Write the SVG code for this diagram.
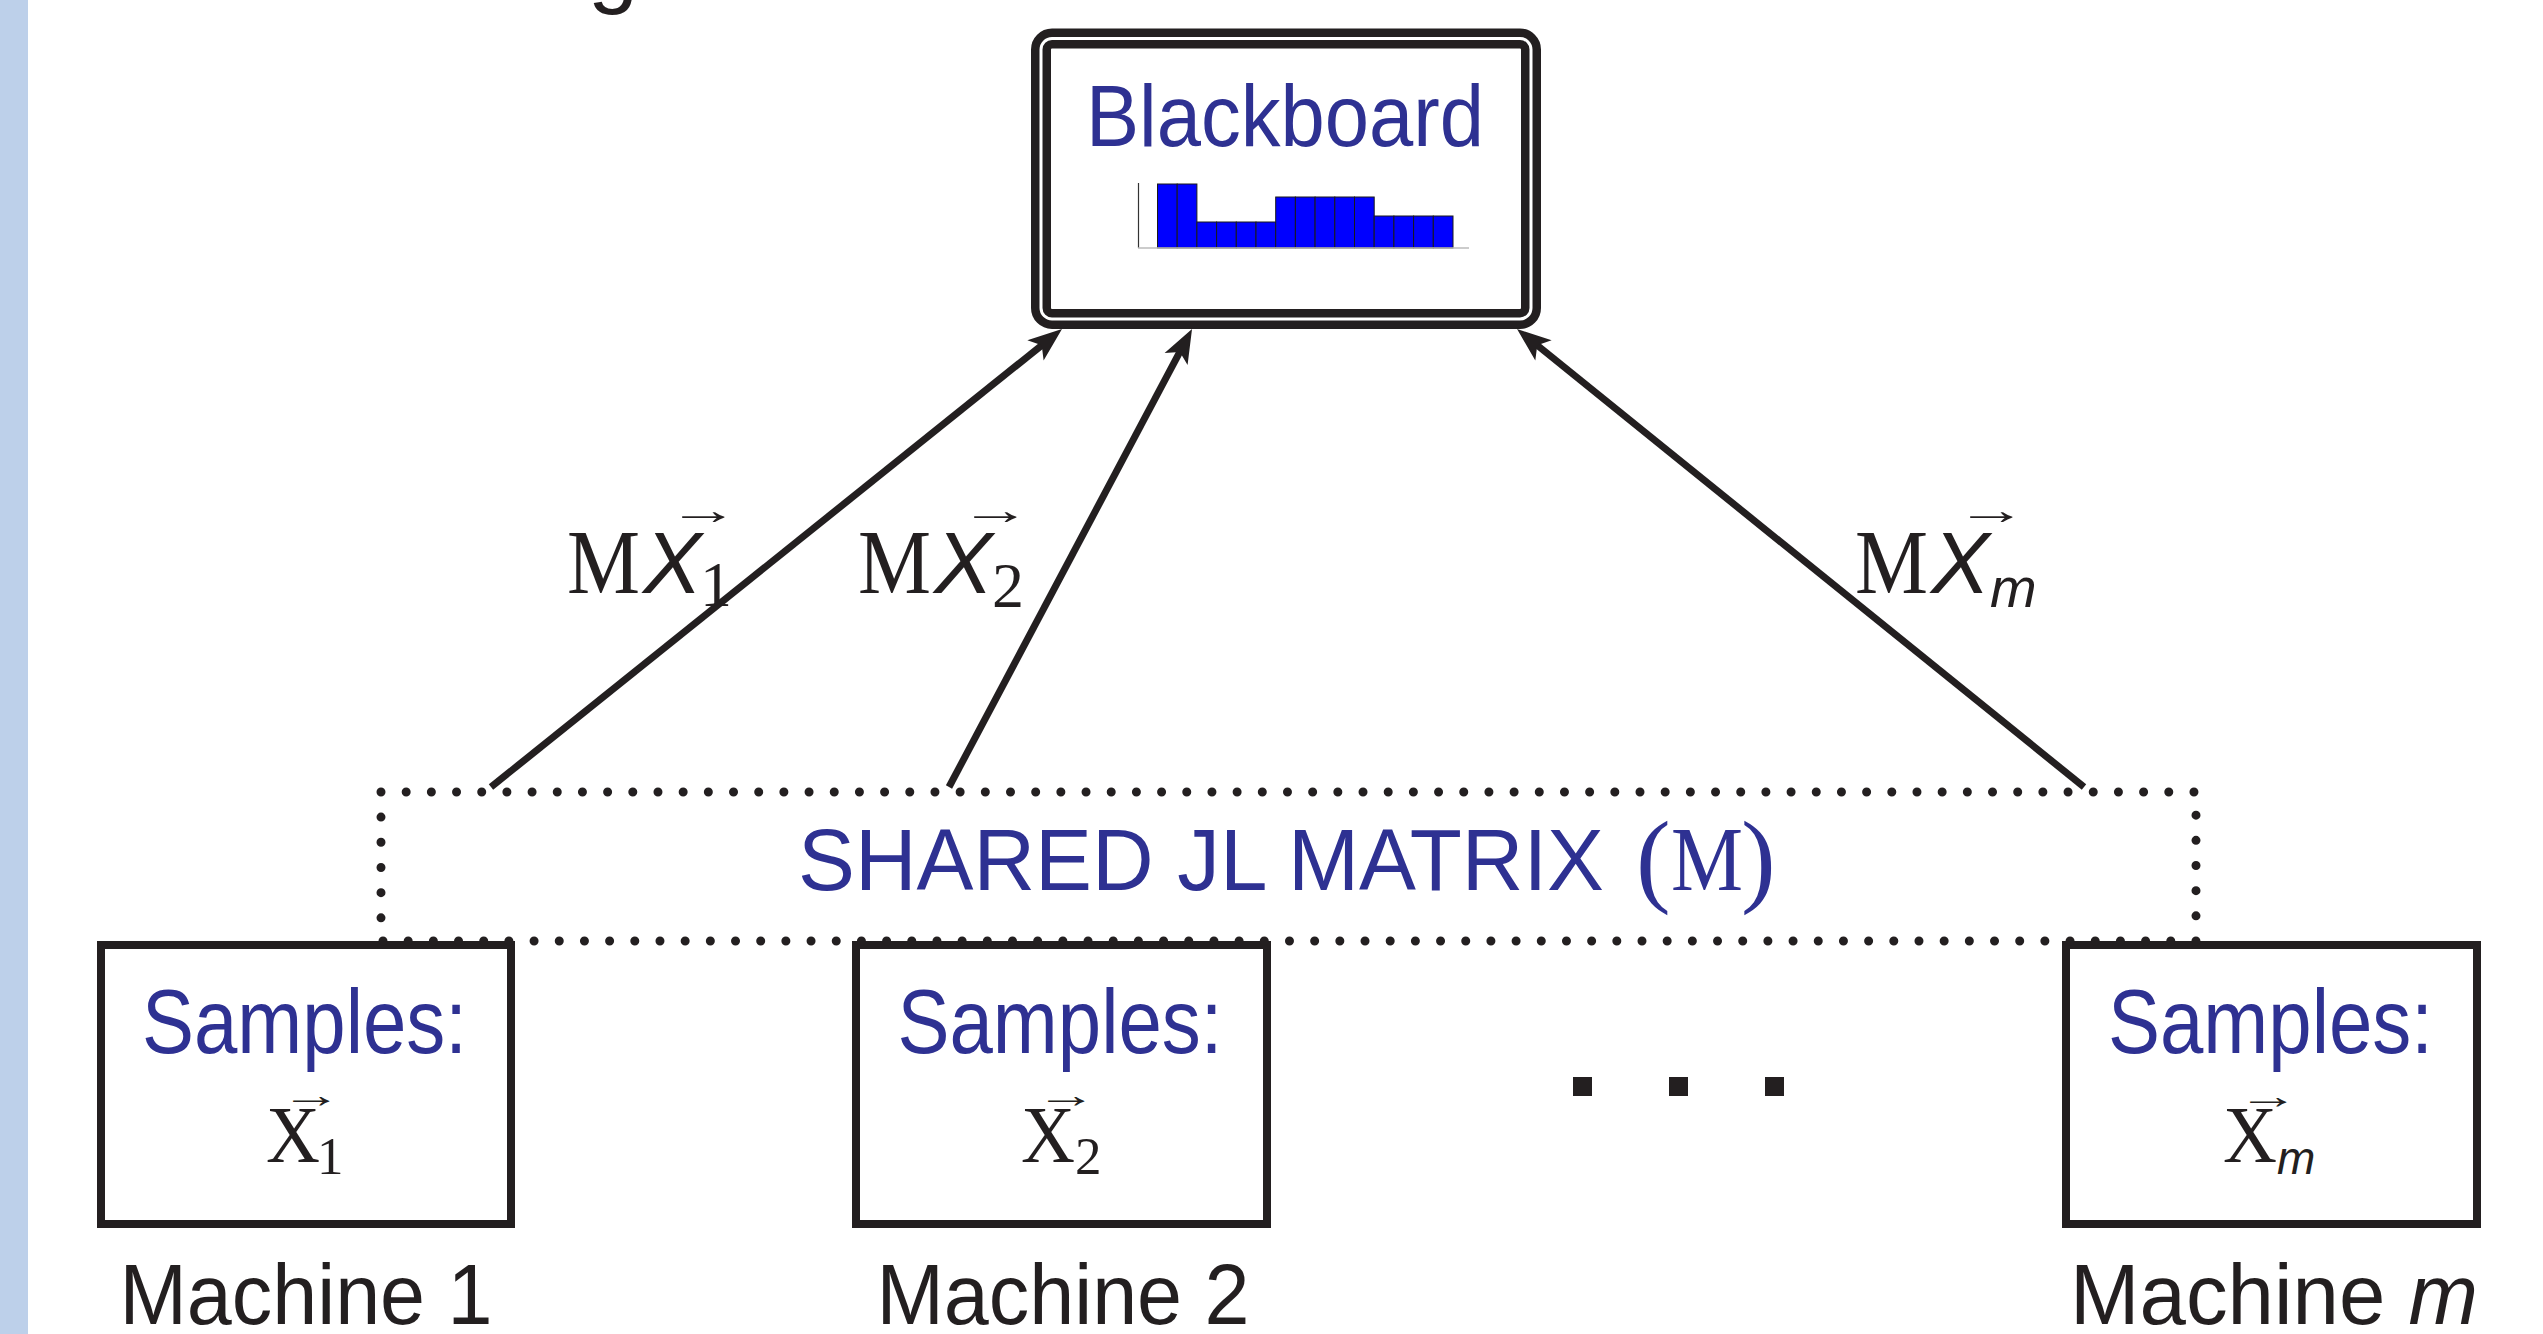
<svg xmlns="http://www.w3.org/2000/svg" width="2543" height="1334" viewBox="0 0 2543 1334">
<style>
.sb{font-family:"Liberation Sans",Arial,sans-serif;fill:#2E3192}
.sk{font-family:"Liberation Sans",Arial,sans-serif;fill:#231F20}
.ski{font-family:"Liberation Sans",Arial,sans-serif;font-style:italic;fill:#231F20}
.rm{font-family:"Liberation Serif","Times New Roman",serif;fill:#231F20}
.rmb{font-family:"Liberation Serif","Times New Roman",serif;fill:#2E3192}
.box{fill:#fff;stroke:#231F20;stroke-width:8}
.conn{fill:none;stroke:#231F20;stroke-width:7}
.bar{fill:#0000FF;stroke:#1a1a1a;stroke-width:1}
</style>
<defs>
<marker id="ah" markerUnits="userSpaceOnUse" markerWidth="40" markerHeight="40" refX="0" refY="0" orient="auto" overflow="visible">
<path d="M15,0 L-19,-13 L-11,0 L-19,13 Z" fill="#231F20"/>
</marker>
</defs>
<rect x="0" y="0" width="2543" height="1334" fill="#fff"/>
<rect x="0" y="0" width="28" height="1334" fill="#BDD0EA"/>
<text class="sk" x="588" y="-4" font-size="90">g</text>

<g id="node-blackboard">
<rect x="1041" y="38.5" width="490" height="280.5" rx="11" fill="#fff" stroke="#231F20" stroke-width="20"/>
<rect x="1041" y="38.5" width="490" height="280.5" rx="11" fill="none" stroke="#fff" stroke-width="3"/>
<text class="sb" x="1285" y="146" font-size="88" text-anchor="middle" textLength="398" lengthAdjust="spacingAndGlyphs">Blackboard</text>
<g id="chart">
<rect class="bar" x="1157.5" y="184" width="19.7" height="64"/>
<rect class="bar" x="1177.2" y="184" width="19.7" height="64"/>
<rect class="bar" x="1196.9" y="222" width="19.7" height="26"/>
<rect class="bar" x="1216.6" y="222" width="19.7" height="26"/>
<rect class="bar" x="1236.3" y="222" width="19.7" height="26"/>
<rect class="bar" x="1256.0" y="222" width="19.7" height="26"/>
<rect class="bar" x="1275.7" y="197" width="19.7" height="51"/>
<rect class="bar" x="1295.4" y="197" width="19.7" height="51"/>
<rect class="bar" x="1315.1" y="197" width="19.7" height="51"/>
<rect class="bar" x="1334.8" y="197" width="19.7" height="51"/>
<rect class="bar" x="1354.5" y="197" width="19.7" height="51"/>
<rect class="bar" x="1374.2" y="216" width="19.7" height="32"/>
<rect class="bar" x="1393.9" y="216" width="19.7" height="32"/>
<rect class="bar" x="1413.6" y="216" width="19.7" height="32"/>
<rect class="bar" x="1433.3" y="216" width="19.7" height="32"/>
<line x1="1138.5" y1="183" x2="1138.5" y2="248" stroke="#333" stroke-width="1.2"/>
<line x1="1138" y1="248" x2="1469" y2="248" stroke="#bbb" stroke-width="1.5"/>
</g>
</g>

<g id="node-machine1">
<rect class="box" x="101" y="945" width="410" height="279"/>
<text class="sb" x="304.5" y="1053" font-size="90" text-anchor="middle" textLength="325" lengthAdjust="spacingAndGlyphs">Samples:</text>
<text class="rm" transform="translate(281,1107) scale(1.7,1)" font-size="36">→</text>
<text class="rm" x="266" y="1162" font-size="80" textLength="54" lengthAdjust="spacingAndGlyphs">X</text>
<text class="rm" x="317" y="1174" font-size="53">1</text>
<text class="sk" x="306" y="1324" font-size="86" text-anchor="middle" textLength="373" lengthAdjust="spacingAndGlyphs">Machine 1</text>
</g>

<g id="node-machine2">
<rect class="box" x="856" y="945" width="411" height="279"/>
<text class="sb" x="1060" y="1053" font-size="90" text-anchor="middle" textLength="325" lengthAdjust="spacingAndGlyphs">Samples:</text>
<text class="rm" transform="translate(1036,1107) scale(1.7,1)" font-size="36">→</text>
<text class="rm" x="1021" y="1162" font-size="80" textLength="54" lengthAdjust="spacingAndGlyphs">X</text>
<text class="rm" x="1075" y="1174" font-size="53">2</text>
<text class="sk" x="1063" y="1324" font-size="86" text-anchor="middle" textLength="373" lengthAdjust="spacingAndGlyphs">Machine 2</text>
</g>

<g id="node-machinem">
<rect class="box" x="2066" y="945" width="411" height="279"/>
<text class="sb" x="2270.5" y="1053" font-size="90" text-anchor="middle" textLength="325" lengthAdjust="spacingAndGlyphs">Samples:</text>
<text class="rm" transform="translate(2238,1108) scale(1.7,1)" font-size="36">→</text>
<text class="rm" x="2223" y="1162" font-size="80" textLength="54" lengthAdjust="spacingAndGlyphs">X</text>
<text class="ski" x="2277" y="1174" font-size="46">m</text>
<text class="sk" x="2274" y="1324" font-size="86" text-anchor="middle" textLength="408" lengthAdjust="spacingAndGlyphs">Machine <tspan font-style="italic">m</tspan></text>
</g>

<g id="node-ellipsis" fill="#231F20">
<rect x="1573" y="1077" width="19" height="19"/>
<rect x="1669" y="1077" width="19" height="19"/>
<rect x="1765" y="1077" width="19" height="19"/>
</g>

<g id="node-shared-matrix">
<rect x="381" y="792" width="1815" height="149" fill="none" stroke="#231F20" stroke-width="9" stroke-linecap="round" stroke-dasharray="0 25.18"/>
<text class="sb" x="798" y="890" font-size="88" textLength="806" lengthAdjust="spacingAndGlyphs">SHARED JL MATRIX</text>
<text class="rmb" x="1636" y="893" font-size="104">(</text>
<text class="rmb" x="1671" y="890" font-size="92" textLength="72" lengthAdjust="spacingAndGlyphs">M</text>
<text class="rmb" x="1741" y="893" font-size="104">)</text>
</g>

<g id="connectors">
<line class="conn" x1="491" y1="787" x2="1050.3" y2="338.4" marker-end="url(#ah)"/>
<line class="conn" x1="949" y1="787" x2="1185" y2="342.2" marker-end="url(#ah)"/>
<line class="conn" x1="2084" y1="787" x2="1528.7" y2="338.4" marker-end="url(#ah)"/>
</g>

<g id="labels">
<g id="label-mx1">
<text class="rm" x="567" y="593" font-size="92" textLength="73" lengthAdjust="spacingAndGlyphs">M</text>
<text class="ski" x="643" y="593" font-size="88">X</text>
<text class="rm" transform="translate(668,524) scale(1.7,1)" font-size="42">→</text>
<text class="rm" x="700" y="606" font-size="64">1</text>
</g>
<g id="label-mx2">
<text class="rm" x="858" y="593" font-size="92" textLength="73" lengthAdjust="spacingAndGlyphs">M</text>
<text class="ski" x="934" y="593" font-size="88">X</text>
<text class="rm" transform="translate(960,524) scale(1.7,1)" font-size="42">→</text>
<text class="rm" x="992" y="607" font-size="64">2</text>
</g>
<g id="label-mxm">
<text class="rm" x="1855" y="593" font-size="92" textLength="73" lengthAdjust="spacingAndGlyphs">M</text>
<text class="ski" x="1931" y="593" font-size="88">X</text>
<text class="rm" transform="translate(1956,524) scale(1.7,1)" font-size="42">→</text>
<text class="ski" x="1990" y="607" font-size="56">m</text>
</g>
</g>
</svg>
